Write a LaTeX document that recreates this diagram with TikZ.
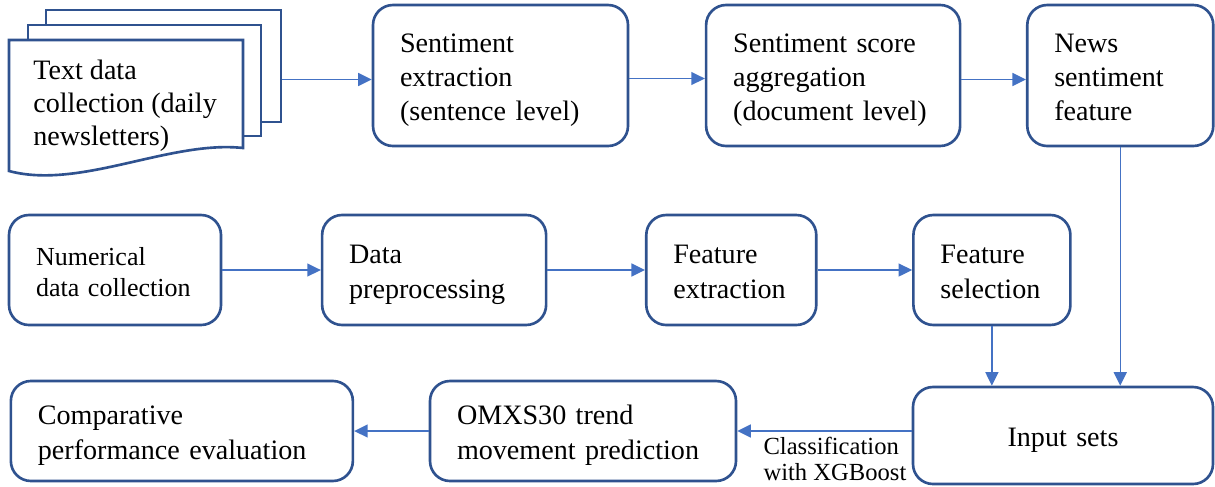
\documentclass[tikz,border=0pt]{standalone}
\usepackage{fontspec}
\setmainfont{Liberation Serif}
\usepackage{xcolor}
\definecolor{colorBox}{HTML}{2F528F}
\definecolor{colorArrow}{HTML}{4472C4}
\usetikzlibrary{arrows.meta, positioning}
\tikzset{block/.style={draw=colorBox, line width=1.5pt, rounded corners=0.4cm, fill=white, align=left, inner xsep=0.54cm, inner ysep=0pt, font=\fontsize{16}{19.6}\selectfont,
    execute at begin node={\rule{0pt}{18.5pt}}, execute at end node={\rule[-6pt]{0pt}{6pt}}},
  page/.style={draw=colorBox, line width=1.5pt, fill=white, inner sep=0pt},
  flow/.style={->, draw=colorArrow, line width=0.8pt},
  clsnote/.style={align=left, inner sep=1pt, font=\fontsize{14}{15}\selectfont}}

\begin{document}
\begin{tikzpicture}[>={Triangle[length=0.27cm,width=0.26cm]}, node distance=1.5cm]
\useasboundingbox (0,0) rectangle (24.3,-9.72);
% stack of newsletters
\node[page, minimum width=4.7cm, minimum height=2.24cm] (docback) at (3.27,-1.32) {};
\node[page, minimum width=4.66cm, minimum height=2.22cm] (docmid) at (2.89,-1.61) {};
\draw[colorBox, line width=1.5pt, fill=white] (0.18,-0.8) -- (4.86,-0.8) -- (4.86,-2.96) .. controls (3.4,-2.8) and (1.6,-3.8) .. (0.18,-3.42) -- cycle;
\node[inner sep=0pt, anchor=west, align=left, font=\fontsize{16}{18.8}\selectfont] (doc) at (0.66,-2.12) {Text data\\collection~(daily\\newsletters)};
% text branch
\node[block, text width=4.02cm, minimum height=2.82cm] (ext) at (10.01,-1.51) {Sentiment\\extraction\\(sentence~level)};
\node[block, text width=4.0cm, minimum height=2.82cm, right=1.51cm of ext] (agg) {Sentiment~score\\aggregation\\(document~level)};
\node[block, text width=2.64cm, minimum height=2.82cm, right=1.29cm of agg] (news) {News\\sentiment\\feature};
% numerical branch
\node[block, text width=3.16cm, minimum height=2.2cm, font=\fontsize{14.8}{17.6}\selectfont, execute at begin node={}, execute at end node={\rule[-1.5pt]{0pt}{1.5pt}}] (num) at (2.30,-5.40) {Numerical\\data~collection};
\node[block, text width=3.4cm, minimum height=2.2cm, right=1.97cm of num] (pre) {Data\\preprocessing};
\node[block, text width=2.32cm, minimum height=2.2cm, right=1.95cm of pre] (fext) {Feature\\extraction};
\node[block, text width=2.06cm, minimum height=2.2cm, right=1.89cm of fext] (fsel) {Feature\\selection};
% model and evaluation
\node[block, align=center, text width=4.92cm, minimum height=1.94cm] (input) at (21.26,-8.71) {Input sets};
\node[block, text width=5.04cm, minimum height=2.0cm] (omx) at (11.66,-8.62) {OMXS30~trend\\movement~prediction};
\node[block, text width=5.76cm, minimum height=2.0cm, left=1.49cm of omx] (comp) {Comparative\\performance~evaluation};

\draw [flow] ([yshift=-0.08cm]docback.east |- ext.west) -- ([yshift=-0.08cm]ext.west);
\draw [flow] ([yshift=-0.06cm]ext.east) -- ([yshift=-0.06cm]agg.west);
\draw [flow] ([yshift=-0.08cm]agg.east) -- ([yshift=-0.08cm]news.west);
\draw [flow] (num) -- (pre);
\draw [flow] (pre) -- (fext);
\draw [flow] (fext) -- (fsel);
\draw [flow] (fsel) -- (fsel |- input.north);
\draw [flow] (news) -- (news |- input.north);
\draw [flow] (input.west |- omx) -- node [clsnote, below=2pt, pos=0.44] {Classification\\with XGBoost} (omx);
\draw [flow] (omx) -- (comp);
\end{tikzpicture}
\end{document}
